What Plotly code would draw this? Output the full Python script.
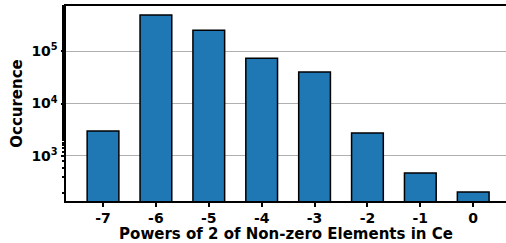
import plotly.graph_objects as go

categories = [-7, -6, -5, -4, -3, -2, -1, 0]
counts = [3000, 490000, 250000, 73000, 40000, 2750, 470, 205]
tick_labels = ["-7", "-6", "-5", "-4", "-3", "-2", "-1", "0"]
ytick_vals = [1e3, 1e4, 1e5]
ytick_text = ["10<sup>3</sup>", "10<sup>4</sup>", "10<sup>5</sup>"]

fig = go.Figure(go.Bar(
    x=categories, y=counts, width=0.6,
    marker=dict(color="#1f77b4", line=dict(color="black", width=1.5)),
))

tick_font = dict(family="DejaVu Sans", size=14, color="black", weight="bold")
title_font = dict(family="DejaVu Sans", size=15, color="black", weight="bold")
fig.update_layout(
    width=506, height=243,
    margin=dict(l=66, r=0, t=6, b=42),
    plot_bgcolor="white", paper_bgcolor="white",
    showlegend=False,
    font=tick_font,
)
fig.update_xaxes(
    range=[-7.7, 0.62], tickvals=categories, ticktext=tick_labels,
    showline=True, linecolor="black", linewidth=2, mirror=True,
    ticks="outside", ticklen=3.5, tickwidth=1.5, tickcolor="black",
    showgrid=False, zeroline=False, automargin=False,
    tickfont=tick_font,
    title=dict(text="Powers of 2 of Non-zero Elements in Ce", font=title_font, standoff=3),
)
fig.update_yaxes(
    type="log", range=[2.14, 5.86],
    tickvals=ytick_vals, ticktext=ytick_text,
    showline=True, linecolor="black", linewidth=2,
    ticks="outside", ticklen=3.5, tickwidth=1.5, tickcolor="black",
    showgrid=True, gridcolor="#b0b0b0", gridwidth=1,
    zeroline=False, automargin=False,
    minor=dict(ticks="outside", ticklen=2, tickcolor="black", showgrid=False),
    tickfont=tick_font,
    title=dict(text="Occurence", font=title_font, standoff=5),
)

fig.write_html(
    "out.html",
    config={"displayModeBar": False},
    post_script="document.body.style.margin='0px';document.body.style.overflow='hidden';",
)
